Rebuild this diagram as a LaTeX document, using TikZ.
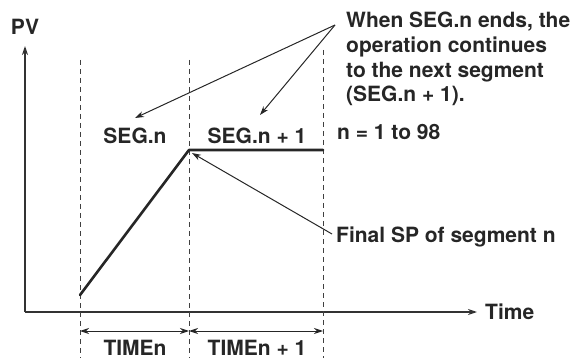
\documentclass[tikz,border=0pt]{standalone}
\usepackage{fontspec}
\setmainfont{TeX Gyre Heros}
\usetikzlibrary{arrows.meta}
\begin{document}
\begin{tikzpicture}[x=1pt,y=-1pt,
  lbl/.style={font=\fontsize{21}{24.7}\selectfont\bfseries, inner sep=0pt, text=black!85},
  axis/.style={line width=1.3pt, draw=black!80, -{Stealth[length=9pt,width=6pt]}},
  guide/.style={line width=1pt, draw=black!75, dash pattern=on 5pt off 4pt},
  pv/.style={line width=2.6pt, draw=black!85, line cap=round, line join=round},
  callout/.style={line width=1pt, draw=black!85, -{Stealth[length=9pt,width=6pt]}},
  span/.style={line width=1pt, draw=black!85, {Stealth[length=9pt,width=6pt]}-{Stealth[length=9pt,width=6pt]}}]
\useasboundingbox (0,0) rectangle (573,358);
% axes
\coordinate (O) at (25,312);
\coordinate (ytop) at (25,46);
\coordinate (xend) at (477,312);
\draw[axis] (O) -- (ytop);
\draw[axis] (O) -- (xend);
\node[lbl] (pv) at (25,27) {PV};
\node[lbl, anchor=west] (time) at (485,312) {Time};
% guides
\coordinate (g1t) at (80,60); \coordinate (g1b) at (80,358);
\coordinate (g2t) at (189,60); \coordinate (g2b) at (189,358);
\coordinate (g3t) at (323,50); \coordinate (g3b) at (323,358);
\draw[guide] (g1t) -- (g1b);
\draw[guide] (g2t) -- (g2b);
\draw[guide] (g3t) -- (g3b);
% PV curve
\coordinate (p0) at (80,295);
\coordinate (p1) at (189,150);
\coordinate (p2) at (323,150);
\draw[pv] (p0) -- (p1) -- (p2);
% labels
\node[lbl] (segn) at (135,136) {SEG.n};
\node[lbl] (segn1) at (257,136) {SEG.n + 1};
\node[lbl, anchor=north west, align=left] (when) at (346,12) {When SEG.n ends, the\\operation continues\\to the next segment\\(SEG.n + 1).};
\node[lbl, anchor=west] (nrange) at (337,132) {n = 1 to 98};
\node[lbl, anchor=west] (final) at (336,237) {Final SP of segment n};
% callouts
\coordinate (c0) at (335,25);
\coordinate (t1) at (135,118);
\coordinate (t2) at (260,115);
\draw[callout] (c0) -- (t1);
\draw[callout] (c0) -- (t2);
\coordinate (f0) at (332,234);
\coordinate (f1) at (192,153);
\draw[callout] (f0) -- (f1);
% spans
\coordinate (s1) at (80,331); \coordinate (s2) at (189,331); \coordinate (s3) at (323,331);
\draw[span] (s1) -- (s2);
\draw[span] (s2) -- (s3);
\node[lbl] (timen) at (135,348) {TIMEn};
\node[lbl] (timen1) at (257,348) {TIMEn + 1};
\end{tikzpicture}
\end{document}
